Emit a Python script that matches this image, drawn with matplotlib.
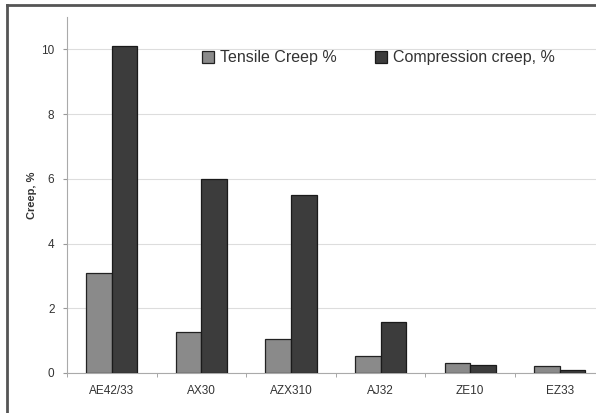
import numpy as np
import matplotlib.pyplot as plt
from matplotlib.lines import Line2D

alloys = ['AE42/33', 'AX30', 'AZX310', 'AJ32', 'ZE10', 'EZ33']
tensile = [3.1, 1.27, 1.05, 0.52, 0.32, 0.23]
compression = [10.1, 6.0, 5.5, 1.56, 0.25, 0.1]
yticks = [0, 2, 4, 6, 8, 10]

plt.rcParams['font.family'] = ['Liberation Sans', 'DejaVu Sans']

fig = plt.figure(figsize=(5.96, 4.13), dpi=100)
ax = fig.add_axes([0.1124, 0.0969, 0.902, 0.862])

x = np.arange(len(alloys))
w = 0.285
ax.bar(x - w/2, tensile, w, color='#8a8a8a', edgecolor='#222222', linewidth=0.9,
       label='Tensile Creep %', zorder=3)
ax.bar(x + w/2, compression, w, color='#3c3c3c', edgecolor='#1a1a1a', linewidth=0.9,
       label='Compression creep, %', zorder=3)

ax.set_xlim(-0.5, len(alloys) - 0.5)
ax.set_ylim(0, 11)
ax.set_yticks(yticks)
ax.set_xticks(x)
ax.set_xticklabels(alloys)
ax.set_xticks(np.arange(len(alloys) + 1) - 0.5, minor=True)
ax.tick_params(axis='x', which='major', length=0, pad=9, labelsize=8.5, colors='#333333')
ax.tick_params(axis='x', which='minor', length=3, color='#999999')
ax.tick_params(axis='y', length=3, color='#999999', labelsize=8.5, labelcolor='#333333', pad=6)
ax.yaxis.grid(True, color='#dddddd', linewidth=0.8, zorder=0)

for s in ['top', 'right']:
    ax.spines[s].set_visible(False)
ax.spines['left'].set_color('#aaaaaa')
ax.spines['bottom'].set_color('#aaaaaa')

ax.set_ylabel('Creep, %', fontsize=8, fontweight='bold', color='#333333', labelpad=3)

ax.legend(loc='center left', bbox_to_anchor=(0.225, 0.885), ncol=2, frameon=False,
          fontsize=11.5, handlelength=0.75, handleheight=0.75, handletextpad=0.35,
          columnspacing=2.4, labelcolor='#333333')

# outer frame of the original figure
fig.add_artist(Line2D([7/596, 7/596], [0, 1 - 5/413], transform=fig.transFigure,
                      color='#555555', linewidth=2))
fig.add_artist(Line2D([7/596, 1], [1 - 5/413, 1 - 5/413], transform=fig.transFigure,
                      color='#555555', linewidth=2))

fig.savefig('out.png', dpi=100)
